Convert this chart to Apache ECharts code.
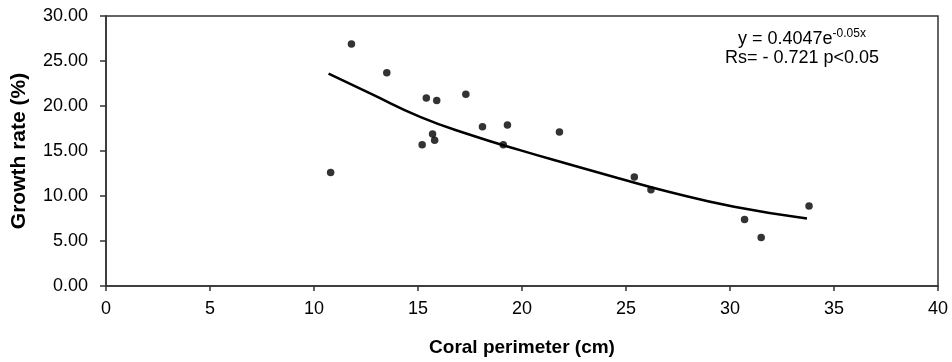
<!DOCTYPE html>
<html><head><meta charset="utf-8">
<script src="https://cdn.jsdelivr.net/npm/echarts@6/dist/echarts.min.js"></script>
<style>html,body{margin:0;padding:0;background:#fff}#c{width:952px;height:362px}</style>
</head><body><div id="c"></div>
<script>
// Observed data points: coral perimeter (cm) and growth rate (%)
var perimeter = [10.8, 11.8, 13.5, 15.2, 15.4, 15.7, 15.8, 15.9, 17.3, 18.1, 19.1, 19.3, 21.8, 25.4, 26.2, 30.7, 31.5, 33.8];
var growth    = [12.6, 26.9, 23.7, 15.7, 20.9, 16.9, 16.2, 20.6, 21.3, 17.7, 15.7, 17.9, 17.1, 12.1, 10.7, 7.4, 5.4, 8.9];
// Trend line
var trendX = [10.7, 12.7, 15.1, 17.5, 19.9, 22.3, 24.6, 27.0, 30.2, 33.7];
var trendY = [23.6, 21.4, 18.8, 16.8, 15.1, 13.5, 12.0, 10.5, 8.8, 7.5];
var xTicks = [0, 5, 10, 15, 20, 25, 30, 35, 40];
var yTicks = [0, 5, 10, 15, 20, 25, 30];

var chart = echarts.init(document.getElementById('c'), null, {renderer: 'canvas'});
var font = '"Liberation Sans", Arial, sans-serif';
chart.setOption({
  animation: false,
  backgroundColor: '#fff',
  grid: {left: 106, right: 14, top: 16, bottom: 76, show: true, borderColor: '#333', borderWidth: 1.5, backgroundColor: 'transparent'},
  xAxis: {
    type: 'value', min: xTicks[0], max: xTicks[xTicks.length-1], interval: 5,
    splitLine: {show: false},
    axisLine: {lineStyle: {color: '#333', width: 1.5}},
    axisTick: {show: true, length: 5, lineStyle: {color: '#333', width: 1.5}},
    axisLabel: {color: '#000', fontFamily: font, fontSize: 18, margin: 14},
    name: 'Coral perimeter (cm)', nameLocation: 'middle', nameGap: 52,
    nameTextStyle: {color: '#000', fontFamily: font, fontSize: 19, fontWeight: 'bold'}
  },
  yAxis: {
    type: 'value', min: yTicks[0], max: yTicks[yTicks.length-1], interval: 5,
    splitLine: {show: false},
    axisLine: {show: true, lineStyle: {color: '#333', width: 1.5}},
    axisTick: {show: true, length: 6, lineStyle: {color: '#333', width: 1.5}},
    axisLabel: {color: '#000', fontFamily: font, fontSize: 18, margin: 18,
      formatter: function (v) { return v.toFixed(2); }},
    name: 'Growth rate (%)', nameLocation: 'middle', nameGap: 76,
    nameTextStyle: {color: '#000', fontFamily: font, fontSize: 21, fontWeight: 'bold'}
  },
  graphic: [{
    type: 'text', x: 802, y: 48,
    style: {
      text: '{a|y = 0.4047e}{s|-0.05x}',
      align: 'center', verticalAlign: 'bottom',
      rich: {
        a: {fontFamily: font, fontSize: 18, fill: '#000', verticalAlign: 'bottom', lineHeight: 20},
        s: {fontFamily: font, fontSize: 12, fill: '#000', verticalAlign: 'top', lineHeight: 20, padding: [0,0,9,0]}
      }
    }
  }, {
    type: 'text', x: 802, y: 67,
    style: {
      text: 'Rs= - 0.721 p<0.05',
      align: 'center', verticalAlign: 'bottom',
      fontFamily: font, fontSize: 18, fill: '#000'
    }
  }],
  series: [{
    type: 'line', smooth: 0.5, symbol: 'none',
    data: trendX.map(function (x, i) { return [x, trendY[i]]; }),
    lineStyle: {color: '#000', width: 2.5}
  }, {
    type: 'scatter', symbol: 'circle', symbolSize: 7.5,
    data: perimeter.map(function (x, i) { return [x, growth[i]]; }),
    itemStyle: {color: '#000'}
  }]
});
</script></body></html>
